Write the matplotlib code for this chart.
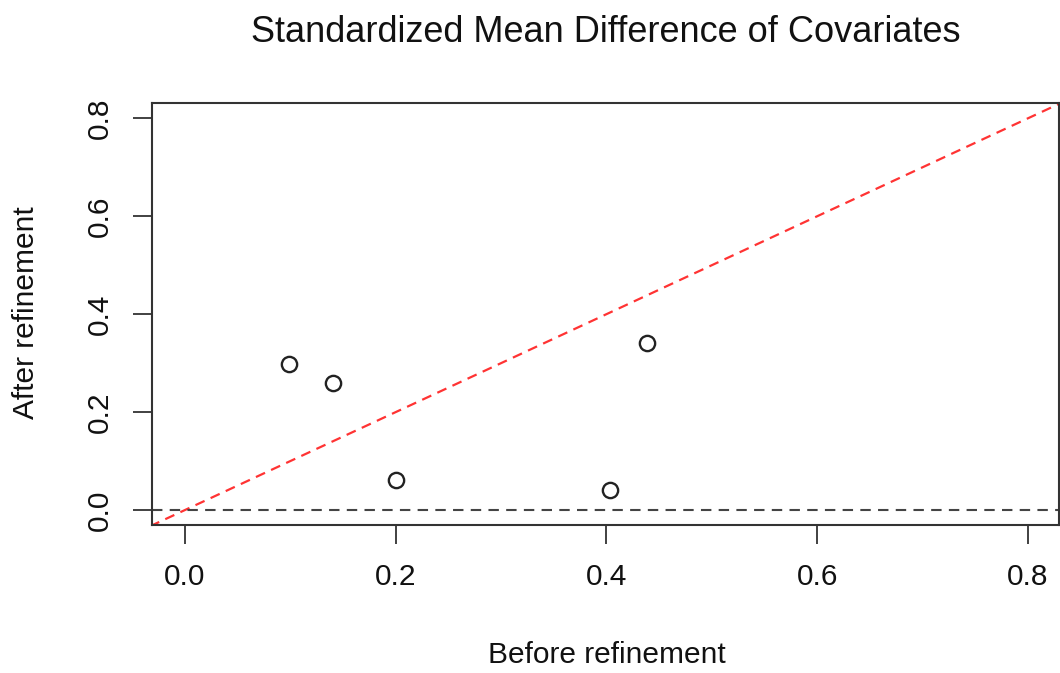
import matplotlib
matplotlib.use("Agg")
import matplotlib.pyplot as plt

before = [0.0987, 0.1404, 0.200, 0.4033, 0.4387]
after = [0.2973, 0.2586, 0.0612, 0.0402, 0.3402]
ticks = [0.0, 0.2, 0.4, 0.6, 0.8]
tick_labels = ["0.0", "0.2", "0.4", "0.6", "0.8"]

plt.rcParams['font.family'] = ['Liberation Sans', 'DejaVu Sans']

W, H = 1060, 673
fig = plt.figure(figsize=(W/100, H/100), dpi=100)
ax = fig.add_axes([152/W, 1-525/H, (1059-152)/W, (525-103)/H])

xlim = (-0.0313, 0.8295)
ylim = (-0.0306, 0.8313)
ax.plot(before, after, linestyle='none', marker='o', markersize=11,
        markerfacecolor='none', markeredgecolor='#222222', markeredgewidth=1.7)
ax.plot([-1, 2], [-1, 2], color='#ff3333', linestyle=(0, (4.5, 3)), linewidth=1.6)
ax.axhline(0, color='#444444', linestyle=(0, (5, 3.5)), linewidth=1.5)

ax.set_xlim(*xlim)
ax.set_ylim(*ylim)
ax.set_xticks(ticks)
ax.set_xticklabels(tick_labels)
ax.set_yticks(ticks)
ax.set_yticklabels(tick_labels, rotation=90, va='center')
ax.tick_params(direction='out', length=13.5, width=1.3, labelsize=21.5, color='#333333',
               labelcolor='#111111')
ax.tick_params(axis='x', pad=14)
ax.tick_params(axis='y', pad=14)
for s in ax.spines.values():
    s.set_linewidth(1.5)
    s.set_color('#333333')

ax.set_xlabel("Before refinement", fontsize=21.5, color='#111111')
ax.xaxis.set_label_coords(607/W, 1-655/H, transform=fig.transFigure)
ax.xaxis.label.set_va('center')
ax.set_ylabel("After refinement", fontsize=21.5, color='#111111')
ax.yaxis.set_label_coords(26/W, 1-313/H, transform=fig.transFigure)
ax.yaxis.label.set_va('center')
fig.text(606/W, 1-32/H, "Standardized Mean Difference of Covariates",
         fontsize=26, ha='center', va='center', color='#111111')

fig.savefig("out.png", dpi=100)
